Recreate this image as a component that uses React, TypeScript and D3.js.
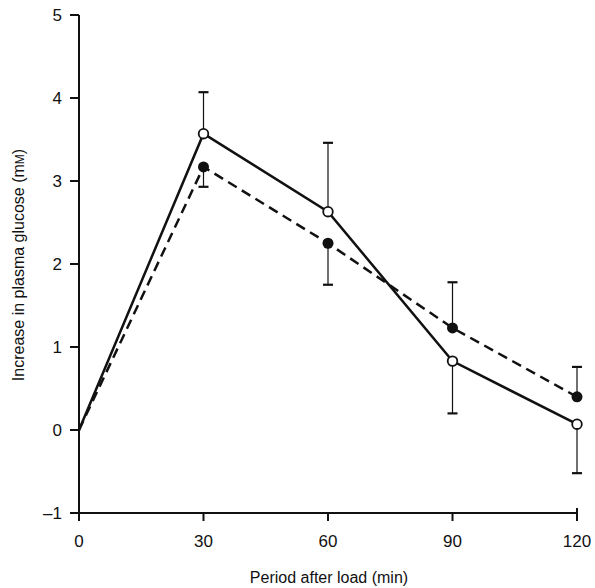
import React from "react";
import * as d3 from "d3";

const times = [0, 30, 60, 90, 120];
const openMeans = [0, 3.57, 2.63, 0.83, 0.07];
const openErr = [0, 0.5, 0.83, 0.63, 0.59];
const openDir = [0, 1, 1, -1, -1];
const filledMeans = [0, 3.17, 2.25, 1.23, 0.4];
const filledErr = [0, 0.24, 0.5, 0.55, 0.36];
const filledDir = [0, -1, -1, 1, 1];
const xTicks = [0, 30, 60, 90, 120];
const yTicks = [-1, 0, 1, 2, 3, 4, 5];

const W = 595;
const H = 588;
const FONT = "'Liberation Sans', Arial, sans-serif";

export default function App() {
  const x = d3.scaleLinear().domain([0, 120]).range([79, 577]);
  const y = d3.scaleLinear().domain([-1, 5]).range([513, 15]);
  const line = d3
    .line<number>()
    .x((_, i) => x(times[i]))
    .y((d) => y(d));

  const errBars = (means: number[], err: number[], dir: number[], key: string) =>
    means.map((m, i) => {
      if (!err[i]) return null;
      const cx = x(times[i]);
      const end = y(m + dir[i] * err[i]);
      return (
        <g key={key + i}>
          <line x1={cx} x2={cx} y1={y(m)} y2={end} stroke="#111" strokeWidth={1.2} />
          <line x1={cx - 5} x2={cx + 5} y1={end} y2={end} stroke="#111" strokeWidth={2.2} />
        </g>
      );
    });

  return (
    <svg width={W} height={H} style={{ position: "absolute", left: 0, top: 0, background: "#fff" }}>
      <rect width={W} height={H} fill="#fff" />
      <line x1={x(0)} x2={x(0)} y1={y(5)} y2={y(-1) + 8} stroke="#111" strokeWidth={2} />
      <line x1={x(0) - 9} x2={x(120)} y1={y(-1)} y2={y(-1)} stroke="#111" strokeWidth={2} />
      <line x1={x(120)} x2={x(120)} y1={y(-1) + 8} y2={y(-1) - 5} stroke="#111" strokeWidth={2} />
      {yTicks.map((t) => (
        <g key={"yt" + t}>
          <line x1={x(0) - 9} x2={x(0)} y1={y(t)} y2={y(t)} stroke="#111" strokeWidth={2} />
          <text
            x={x(0) - 17}
            y={y(t)}
            dy="0.36em"
            textAnchor="end"
            fontFamily={FONT}
            fontSize={17}
            fill="#111"
          >
            {t < 0 ? "\u2013" + Math.abs(t) : t}
          </text>
        </g>
      ))}
      {xTicks.map((t) => (
        <g key={"xt" + t}>
          <line x1={x(t)} x2={x(t)} y1={y(-1)} y2={y(-1) + 8} stroke="#111" strokeWidth={2} />
          <text x={x(t)} y={y(-1) + 34} textAnchor="middle" fontFamily={FONT} fontSize={17} fill="#111">
            {t}
          </text>
        </g>
      ))}
      <text x={329} y={583} textAnchor="middle" fontFamily={FONT} fontSize={16} fill="#111">
        Period after load (min)
      </text>
      <text
        transform="translate(24,265) rotate(-90)"
        textAnchor="middle"
        fontFamily={FONT}
        fontSize={16}
        fill="#111"
      >
        Increase in plasma glucose (m<tspan fontSize={12}>M</tspan>)
      </text>

      {errBars(openMeans, openErr, openDir, "o")}
      {errBars(filledMeans, filledErr, filledDir, "f")}

      <path d={line(filledMeans) || ""} fill="none" stroke="#111" strokeWidth={2.5} strokeDasharray="10,6" />
      <path d={line(openMeans) || ""} fill="none" stroke="#111" strokeWidth={2.5} />

      {filledMeans.map((m, i) =>
        i === 0 ? null : <circle key={"fc" + i} cx={x(times[i])} cy={y(m)} r={5.5} fill="#111" />
      )}
      {openMeans.map((m, i) =>
        i === 0 ? null : (
          <circle key={"oc" + i} cx={x(times[i])} cy={y(m)} r={4.8} fill="#fff" stroke="#111" strokeWidth={1.8} />
        )
      )}
    </svg>
  );
}
